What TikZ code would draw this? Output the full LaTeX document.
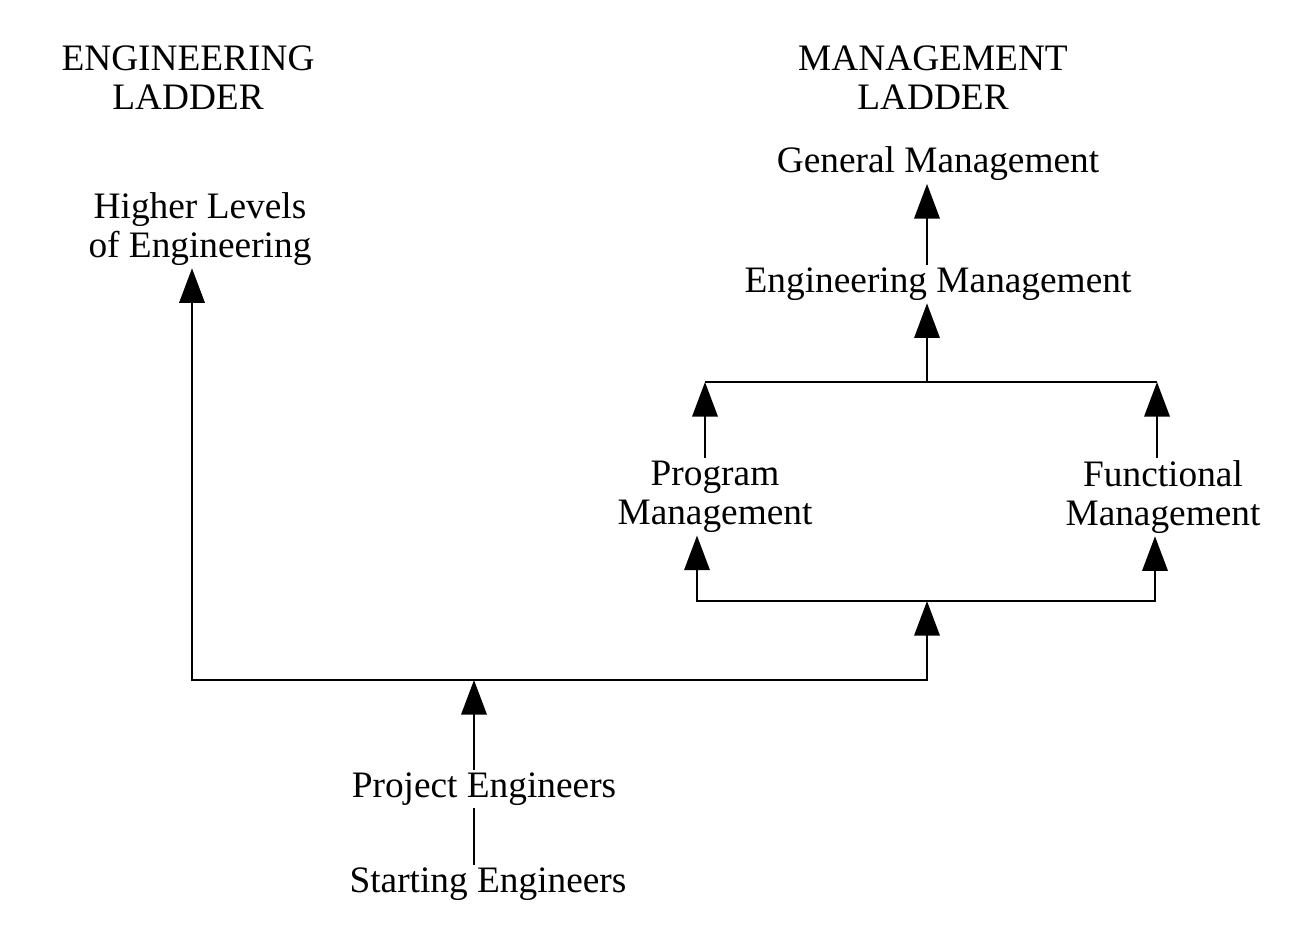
\documentclass[tikz,border=0pt]{standalone}
\usepackage{fontspec}
\setmainfont{Liberation Serif}
\usetikzlibrary{arrows.meta}

\begin{document}
\begin{tikzpicture}[x=0.75pt,y=0.75pt,yscale=-1,xscale=1,
    lbl/.style={align=center,inner sep=2pt,font=\fontsize{28}{29}\selectfont},
    arr/.style={line width=1.9pt,-{Triangle[length=26pt,width=19pt]}},
    ln/.style={line width=1.9pt}]
        \useasboundingbox (0,0) rectangle (1300,936);

        % labels
        \node[lbl] (engl) at (188,78) {ENGINEERING\\LADDER};
        \node[lbl] (mgtl) at (933,78) {MANAGEMENT\\LADDER};
        \node[lbl] (genm) at (938,164) {General Management};
        \node[lbl] (hle) at (200,229) {Higher Levels\\of Engineering};
        \node[lbl] (engm) at (938,284) {Engineering Management};
        \node[lbl] (prgm) at (715,497) {Program\\Management};
        \node[lbl] (funm) at (1163,497) {Functional\\Management};
        \node[lbl] (proj) at (484,789) {Project Engineers};
        \node[lbl] (strt) at (488,884) {Starting Engineers};

        % junctions
        \coordinate (jl) at (192,680);
        \coordinate (jm) at (474,680);
        \coordinate (jr) at (927,680);
        \coordinate (pl) at (697,601);
        \coordinate (pm) at (927,601);
        \coordinate (pr) at (1155,601);
        \coordinate (ql) at (705,382);
        \coordinate (qm) at (927,382);
        \coordinate (qr) at (1157,382);

        % engineering side
        \draw[ln] (strt.north -| jm) -- (proj.south -| jm);
        \draw[arr] (proj.north -| jm) -- (jm);
        \draw[arr] (jr) -- (jl) -- (hle.south -| jl);
        \draw[arr] (jl) -- (jr) -- (pm);

        % management side
        \draw[arr] (pm) -- (pl) -- (prgm.south -| pl);
        \draw[arr] (pm) -- (pr) -- (funm.south -| pr);
        \draw[arr] (prgm.north -| ql) -- (ql);
        \draw[arr] (funm.north -| qr) -- (qr);
        \draw[ln] (ql) -- (qr);
        \draw[arr] (qm) -- (engm.south -| qm);
        \draw[arr] (engm.north -| qm) -- (genm.south -| qm);
\end{tikzpicture}
\end{document}
